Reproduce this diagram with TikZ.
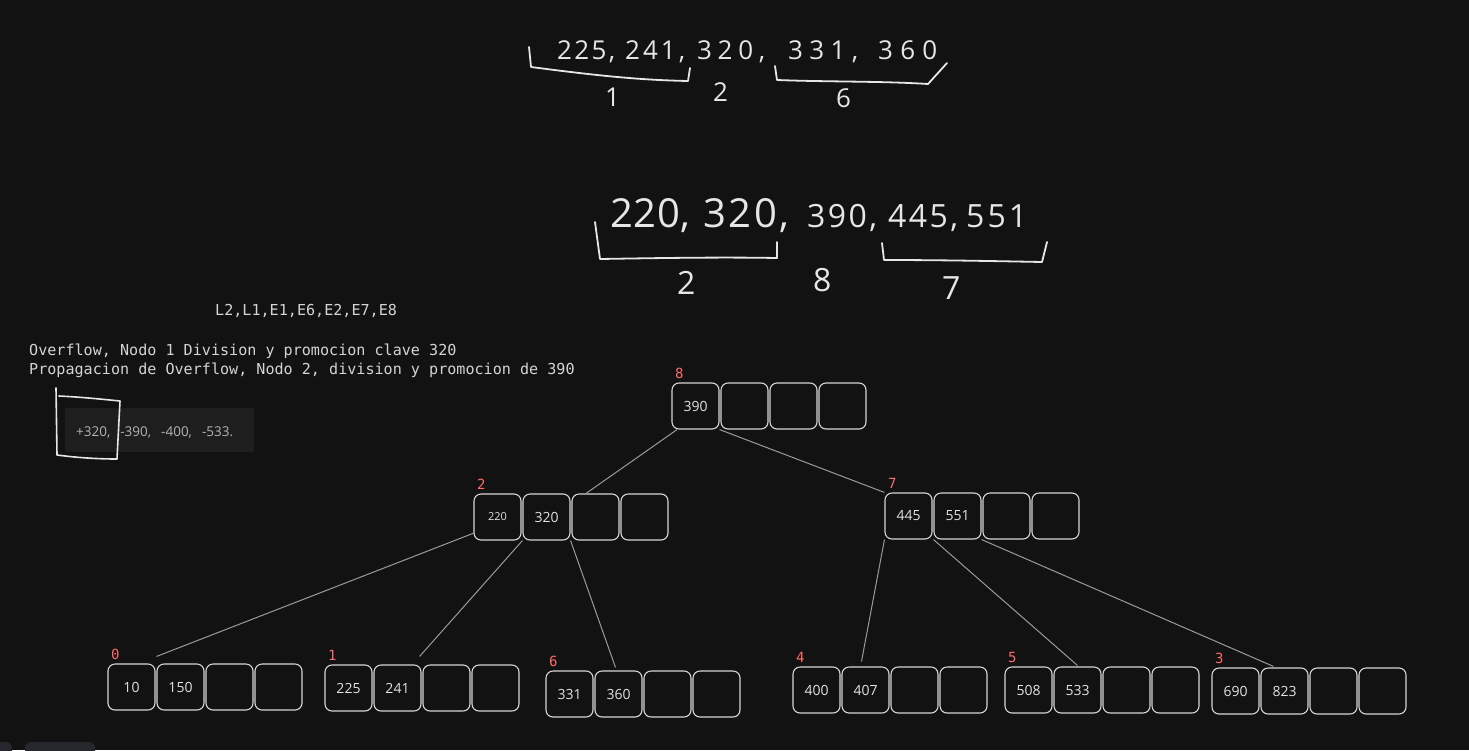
\documentclass[tikz,border=0pt]{standalone}
\usepackage{fontspec}
\setmainfont{Open Sans}
\newfontfamily\monof{DejaVu Sans Mono}
\newfontfamily\hand{Open Sans}
\usetikzlibrary{calc}
\definecolor{bg}{HTML}{121212}
\definecolor{cellc}{HTML}{D6D6D6}
\definecolor{celltext}{HTML}{E2E2E2}
\definecolor{labred}{HTML}{FF6B6B}
\definecolor{edgec}{HTML}{9A9A9A}
\definecolor{inkc}{HTML}{E6E6E6}
\definecolor{monoc}{HTML}{D4D4D4}
\definecolor{shotbg}{HTML}{1E1E1E}
\definecolor{shottext}{HTML}{B4B4B4}
\definecolor{uic}{HTML}{26262D}
\tikzset{
  cell/.style={draw=cellc, line width=1.1pt, rounded corners=7pt, minimum width=47pt, minimum height=46pt, inner sep=0pt, text=celltext, font=\hand\fontsize{14}{16}\selectfont},
  lab/.style={text=labred, font=\monof\fontsize{14}{16}\selectfont, inner sep=0pt, anchor=base west},
  edge/.style={draw=edgec, line width=1pt},
  sketch/.style={draw=inkc, line width=1.8pt, line cap=round, line join=round},
  hw/.style={text=inkc, inner sep=0pt, anchor=base west},
  hwtop/.style={hw, font=\hand\fontsize{26}{28}\selectfont},
  hwbig/.style={hw, font=\hand\fontsize{40}{44}\selectfont},
  hwmid/.style={hw, font=\hand\fontsize{32}{36}\selectfont},
  mono/.style={text=monoc, font=\monof\fontsize{15.1}{18}\selectfont, inner sep=0pt, anchor=base west},
}
\newcommand\btree[6]{%
  \node[cell] (#1-1) at (#2+23.5,#3+23) {#4};
  \node[cell] (#1-2) at (#2+72.5,#3+23) {#5};
  \node[cell] (#1-3) at (#2+121.5,#3+23) {};
  \node[cell] (#1-4) at (#2+170.5,#3+23) {};
  \node[lab] (#1-l) at (#2+3,#3-5) {#6};
}
\begin{document}
\begin{tikzpicture}[x=1pt,y=-1pt]
\fill[bg] (0,0) rectangle (1469,750);
\useasboundingbox (0,0) rectangle (1469,750);

% UI bits bottom-left
\fill[uic, rounded corners=5pt] (-10,742) rectangle (12,760);
\fill[uic, rounded corners=5pt] (25,742) rectangle (95,760);

% top handwriting
\node[hwtop] (h1) at (557,59) {\makebox[58pt]{2\hfill2\hfill5\hfill,}};
\node[hwtop] (h2) at (625,59) {\makebox[60pt]{2\hfill4\hfill1\hfill,}};
\node[hwtop] (h3) at (697,59) {\makebox[68pt]{3\hfill2\hfill0\hfill,}};
\node[hwtop] (h4) at (788,59) {\makebox[70pt]{3\hfill3\hfill1\hfill,}};
\node[hwtop] (h5) at (878,59) {\makebox[59pt]{3\hfill6\hfill0}};
\draw[sketch] (529,47) -- (531,67) .. controls (600,76) and (640,80) .. (688,81) -- (690,68);
\draw[sketch] (775,66) -- (777,80) .. controls (830,82) and (880,81) .. (928,84) -- (947,63);
\node[hwtop] (hl1) at (605,106) {1};
\node[hwtop] (hl2) at (713,101) {2};
\node[hwtop] (hl6) at (836,107) {6};

% middle handwriting
\node[hwbig] (m1) at (610,227) {\makebox[80pt]{2\hfill2\hfill0\hfill,}};
\node[hwbig] (m2) at (703,227) {\makebox[86pt]{3\hfill2\hfill0\hfill,}};
\node[hwmid] (m3) at (807,227) {\makebox[70pt]{3\hfill9\hfill0\hfill,}};
\node[hwmid] (m4) at (888,227) {\makebox[70pt]{4\hfill4\hfill5\hfill,}};
\node[hwmid] (m5) at (966,227) {\makebox[61pt]{5\hfill5\hfill1}};
\draw[sketch] (595,222) -- (600,259) .. controls (660,258) and (720,257) .. (777,258) -- (777,242);
\draw[sketch] (882,243) -- (884,260) .. controls (940,260) and (990,261) .. (1042,262) -- (1047,242);
\node[hwmid] (ml2) at (677,294) {2};
\node[hwmid] (ml8) at (813,291) {8};
\node[hwmid] (ml7) at (942,299) {7};

% monospace notes
\node[mono] (t1) at (215,315) {L2,L1,E1,E6,E2,E7,E8};
\node[mono] (t2) at (29,355) {Overflow, Nodo 1 Division y promocion clave 320};
\node[mono] (t3) at (29,374) {Propagacion de Overflow, Nodo 2, division y promocion de 390};

% screenshot fragment
\fill[shotbg] (65,408) rectangle (254,452);
\node[text=shottext, font=\fontsize{13.5}{15}\selectfont, inner sep=0pt, anchor=base west] (s1) at (76,436) {+320,\hspace{10pt}-390,\hspace{10pt}-400,\hspace{10pt}-533.};
\draw[sketch, line width=1.6pt] (56,388) -- (57,455) .. controls (80,458) and (100,459) .. (117,459) -- (120,401) .. controls (100,399) and (80,397) .. (59,396);

% B-tree
\btree{n8}{672}{383}{390}{}{8}
\btree{n2}{474}{494}{{\fontsize{11}{12}\selectfont 220}}{320}{2}
\btree{n7}{885}{493}{445}{551}{7}
\btree{n0}{108}{664}{10}{150}{0}
\btree{n1}{325}{665}{225}{241}{1}
\btree{n6}{546}{671}{331}{360}{6}
\btree{n4}{793}{667}{400}{407}{4}
\btree{n5}{1005}{667}{508}{533}{5}
\btree{n3}{1212}{668}{690}{823}{3}

\draw[edge] (n8-1.-128) -- (n2-3.112);
\draw[edge] (n8-1.south east) -- (n7-1.north west);
\draw[edge] (n2-1.-146) -- ($(n0-2.north west)+(0,-7)$);
\draw[edge] (n2-2.south west) -- ($(n1-2.north east)+(-2,-8)$);
\draw[edge] (n2-2.south east) -- ($(n6-2.north)+(-3,-3)$);
\draw[edge] (n7-1.south west) -- ($(n4-2.north)+(-4,-5)$);
\draw[edge] (n7-2.south west) -- ($(n5-2.north)+(0,-1)$);
\draw[edge] (n7-2.south east) -- ($(n3-2.north)+(-11,-1)$);
\end{tikzpicture}
\end{document}
